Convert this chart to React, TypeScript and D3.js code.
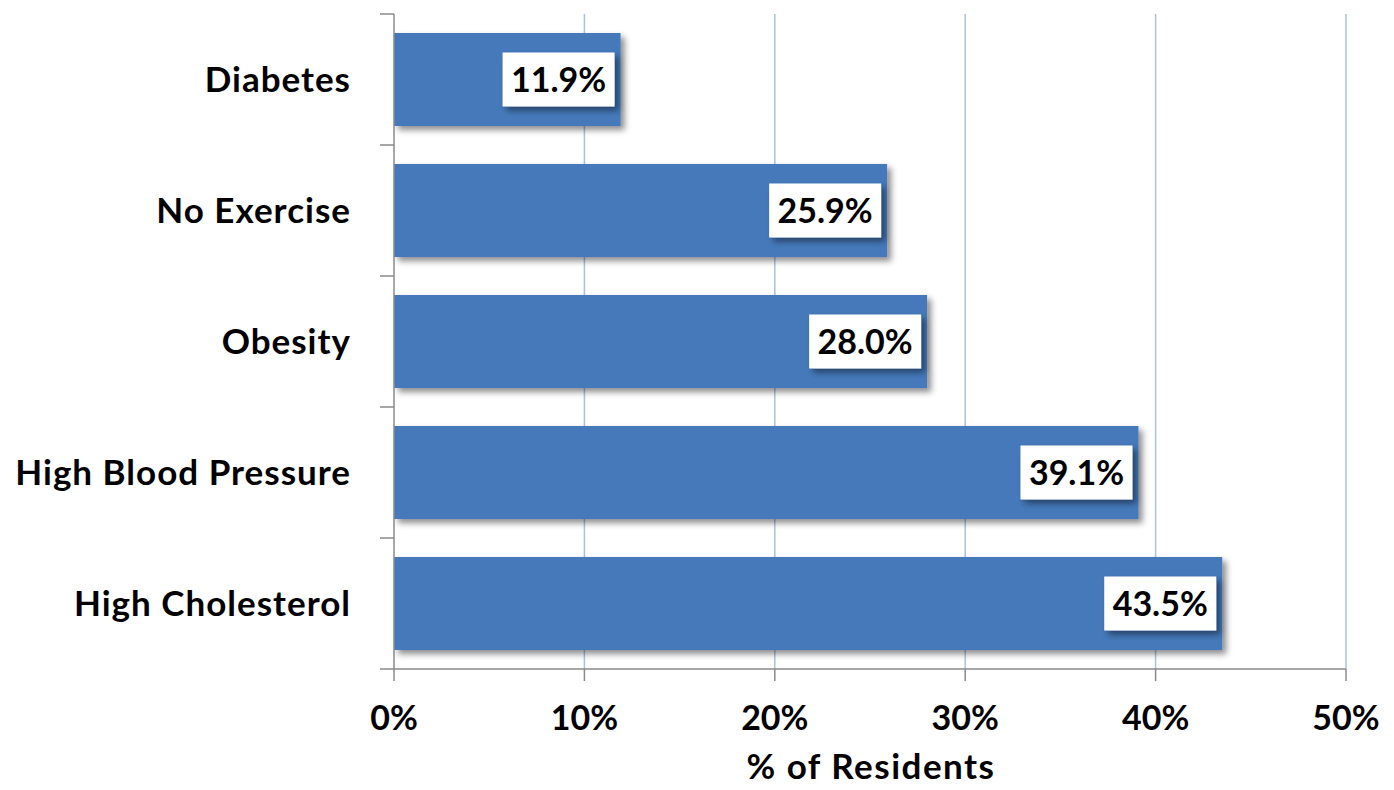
import React from "react";
import * as d3 from "d3";

const categories = ["Diabetes", "No Exercise", "Obesity", "High Blood Pressure", "High Cholesterol"];
const values = [11.9, 25.9, 28.0, 39.1, 43.5];
const xTicks = [0, 10, 20, 30, 40, 50];
const xTitle = "% of Residents";

export default function App() {
  const W = 1394, H = 790;
  const left = 394, right = 1346, top = 14, bottom = 669;
  const x = d3.scaleLinear().domain([0, 50]).range([left, right]);
  const y = d3.scaleBand().domain(categories).range([top, bottom]).paddingInner(0.29).paddingOuter(0.145);
  const font = "Lato, 'Open Sans', sans-serif";
  const bandStep = (bottom - top) / categories.length;
  return (
    <svg width={W} height={H} style={{ position: "absolute", left: 0, top: 0, background: "#fff" }}>
      <defs>
        <filter id="sh" x="-10%" y="-20%" width="130%" height="150%">
          <feDropShadow dx="4" dy="4" stdDeviation="3" floodColor="#000" floodOpacity="0.45" />
        </filter>
      </defs>
      {xTicks.slice(1).map((t) => (
        <line key={t} x1={x(t)} x2={x(t)} y1={top} y2={bottom} stroke="#a9c2e0" strokeWidth={1.5} />
      ))}
      {categories.map((c, i) => (
        <rect key={c} x={x(0)} y={y(c)!} width={x(values[i]) - x(0)} height={y.bandwidth()} fill="#4479BA" filter="url(#sh)" />
      ))}
      <line x1={left} x2={left} y1={top} y2={bottom} stroke="#8a8a8a" strokeWidth={1.5} />
      <line x1={left} x2={right} y1={bottom} y2={bottom} stroke="#8a8a8a" strokeWidth={1.5} />
      {d3.range(categories.length + 1).map((i) => (
        <line key={i} x1={left - 14} x2={left} y1={top + i * bandStep} y2={top + i * bandStep} stroke="#8a8a8a" strokeWidth={1.5} />
      ))}
      {xTicks.map((t) => (
        <line key={t} x1={x(t)} x2={x(t)} y1={bottom} y2={bottom + 12} stroke="#8a8a8a" strokeWidth={1.5} />
      ))}
      {categories.map((c, i) => {
        const yc = y(c)! + y.bandwidth() / 2;
        const xe = x(values[i]);
        const bw = 112, bh = 54;
        return (
          <g key={c}>
            <text x={351} y={yc} dy="0.36em" textAnchor="end" fontFamily={font} fontWeight="bold" fontSize={35} letterSpacing={1} fill="#000">{c}</text>
            <rect x={xe - 6 - bw} y={yc - bh / 2} width={bw} height={bh} fill="#fff" filter="url(#sh)" />
            <text x={xe - 6 - bw / 2} y={yc} dy="0.36em" textAnchor="middle" fontFamily={font} fontWeight="bold" fontSize={34} fill="#000">{values[i].toFixed(1) + "%"}</text>
          </g>
        );
      })}
      {xTicks.map((t) => (
        <text key={t} x={x(t)} y={730} textAnchor="middle" fontFamily={font} fontWeight="bold" fontSize={34} fill="#000">{t + "%"}</text>
      ))}
      <text x={871} y={779} textAnchor="middle" fontFamily={font} fontWeight="bold" fontSize={35} letterSpacing={1.5} fill="#000">{xTitle}</text>
    </svg>
  );
}
